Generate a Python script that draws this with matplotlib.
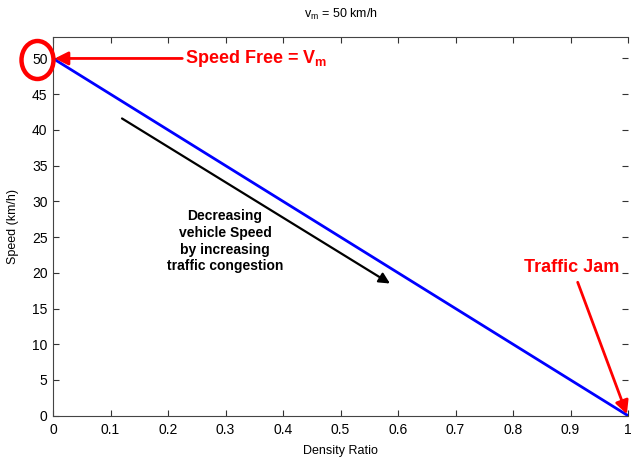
import matplotlib
matplotlib.use("Agg")
import matplotlib.pyplot as plt
from matplotlib.patches import Ellipse

plt.rcParams["font.family"] = ["Liberation Sans", "DejaVu Sans"]

# speed-density relation (Greenshields), vm = 50 km/h
v_max = 50
density_ratio = [0, 1]
speed = [50, 0]
x_ticks = [0, 0.1, 0.2, 0.3, 0.4, 0.5, 0.6, 0.7, 0.8, 0.9, 1]
y_ticks = [0, 5, 10, 15, 20, 25, 30, 35, 40, 45, 50]

fig = plt.figure(figsize=(6.34, 4.57), dpi=100)
ax = fig.add_axes([0.0836, 0.0904, 0.9070, 0.8286])

ax.plot(density_ratio, speed, color="#0000ff", lw=2, zorder=3)

ax.set_xlim(0, 1)
ax.set_ylim(0, 53)
ax.set_xticks(x_ticks)
ax.set_xticklabels(["0", "0.1", "0.2", "0.3", "0.4", "0.5", "0.6", "0.7", "0.8", "0.9", "1"])
ax.set_yticks(y_ticks)
ax.tick_params(direction="in", length=4, width=0.8, colors="#333333", labelsize=10,
               top=True, right=True, labelcolor="black")
ax.tick_params(axis="x", pad=5)
ax.tick_params(axis="y", pad=4)
for side in ["left", "bottom", "top"]:
    ax.spines[side].set_color("#444444")
    ax.spines[side].set_linewidth(0.8)
ax.spines["right"].set_visible(False)

ax.set_xlabel("Density Ratio", fontsize=9, labelpad=6)
ax.set_ylabel("Speed (km/h)", fontsize=9, labelpad=9)
ax.set_title("v$_\\mathregular{m}$ = %d km/h" % v_max, fontsize=9, pad=14)

# red circle round the 50 tick label
circle = Ellipse((37.5, 457 - 60), 32, 38, transform=None, fill=False,
                 edgecolor="red", lw=3.2, clip_on=False)
fig.patches.append(circle)

ax.annotate("Speed Free = V$_\\mathregular{m}$", xy=(0.003, 50), xytext=(0.2296, 50),
            fontsize=13, fontweight="bold", color="red", va="center", ha="left",
            arrowprops=dict(arrowstyle="-|>", color="red", lw=2, mutation_scale=20,
                            shrinkA=0, shrinkB=0))

ax.annotate("Traffic Jam", xy=(0.998, 0.2), xytext=(0.9026, 20.8),
            fontsize=13, fontweight="bold", color="red", va="center", ha="center",
            arrowprops=dict(arrowstyle="-|>", color="red", lw=2, mutation_scale=20,
                            shrinkA=3, shrinkB=0), annotation_clip=False)

ax.annotate("", xy=(0.586, 18.5), xytext=(0.12, 41.6),
            arrowprops=dict(arrowstyle="-|>", color="black", lw=1.6, mutation_scale=16,
                            shrinkA=0, shrinkB=0))
ax.text(0.299, 24.4, "Decreasing\nvehicle Speed\nby increasing\ntraffic congestion",
        fontsize=10, fontweight="bold", ha="center", va="center", linespacing=1.25)

fig.savefig("out.png", dpi=100)
